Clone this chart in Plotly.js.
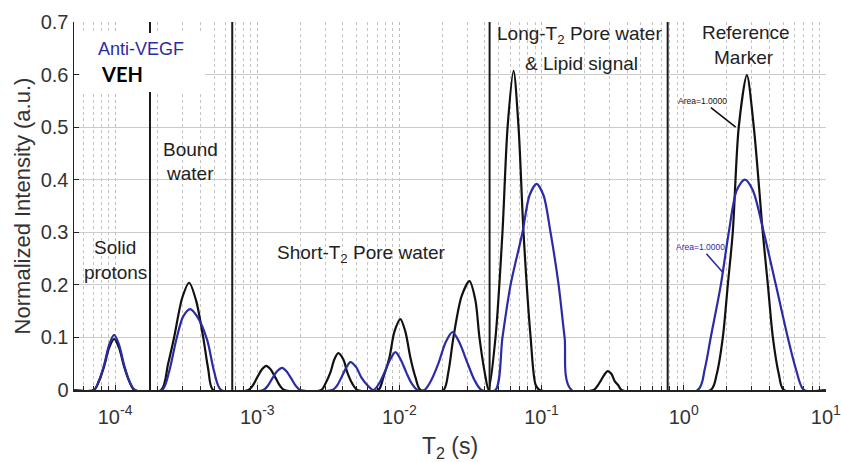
<!DOCTYPE html>
<html>
<head>
<meta charset="utf-8">
<script src="https://cdn.plot.ly/plotly-3.0.1.min.js"></script>
<style>html,body{margin:0;padding:0;background:#fff;}#chart{width:841px;height:462px;}</style>
</head>
<body>
<div id="chart"></div>
<script>
// ---- Data (T2 given as log10 of seconds) ----
const vehLogT2 = [-4.289, -4.148, -4.113, -4.077, -4.042, -4.007, -3.972, -3.937, -3.901, -3.866,
  -3.676, -3.627, -3.585, -3.528, -3.479, -3.430, -3.380, -3.345, -3.310,
  -3.063, -3.028, -3.000, -2.965, -2.937, -2.908, -2.873, -2.845, -2.810,
  -2.549, -2.521, -2.486, -2.458, -2.430, -2.394, -2.366, -2.331, -2.296,
  -2.148, -2.113, -2.070, -2.035, -1.993, -1.958, -1.923, -1.887, -1.852,
  -1.690, -1.655, -1.620, -1.563, -1.507, -1.465, -1.437, -1.401, -1.373,
  -1.324, -1.275, -1.239, -1.197, -1.162, -1.127, -1.077, -1.042, -1.014,
  -0.634, -0.606, -0.585, -0.556, -0.535, -0.507, -0.486, -0.458, -0.437,
  0.190, 0.232, 0.275, 0.310, 0.345, 0.387, 0.444, 0.493, 0.556, 0.592, 0.627, 0.669, 0.704, 1.0];
const vehIntensity = [0, 0, 0.017, 0.045, 0.080, 0.097, 0.080, 0.045, 0.017, 0,
  0, 0.050, 0.100, 0.175, 0.204, 0.170, 0.100, 0.040, 0,
  0, 0.010, 0.024, 0.040, 0.046, 0.040, 0.024, 0.010, 0,
  0, 0.012, 0.033, 0.058, 0.070, 0.058, 0.033, 0.012, 0,
  0, 0.024, 0.062, 0.111, 0.135, 0.111, 0.062, 0.024, 0,
  0, 0.035, 0.100, 0.178, 0.207, 0.170, 0.100, 0.035, 0,
  0.100, 0.300, 0.500, 0.607, 0.500, 0.300, 0.100, 0.010, 0,
  0, 0.008, 0.017, 0.030, 0.036, 0.030, 0.017, 0.008, 0,
  0, 0.030, 0.100, 0.200, 0.300, 0.500, 0.599, 0.500, 0.300, 0.200, 0.100, 0.030, 0, 0];

const antiLogT2 = [-4.289, -4.148, -4.113, -4.077, -4.042, -4.007, -3.972, -3.937, -3.901, -3.859,
  -3.669, -3.620, -3.570, -3.521, -3.472, -3.423, -3.352, -3.303, -3.254,
  -2.958, -2.923, -2.894, -2.859, -2.824, -2.796, -2.761, -2.732, -2.697,
  -2.472, -2.437, -2.408, -2.373, -2.345, -2.303, -2.268, -2.225, -2.183,
  -2.141, -2.106, -2.063, -2.028, -1.993, -1.951, -1.915, -1.873,
  -1.824, -1.775, -1.725, -1.676, -1.627, -1.577, -1.521, -1.472, -1.423,
  -1.324, -1.275, -1.218, -1.134, -1.085, -1.035, -0.986, -0.937, -0.880, -0.838, -0.789,
  0.099, 0.148, 0.190, 0.261, 0.317, 0.373, 0.430, 0.486, 0.563, 0.648, 0.732, 0.789, 0.845, 1.0];
const antiIntensity = [0, 0, 0.018, 0.048, 0.086, 0.105, 0.086, 0.048, 0.018, 0,
  0, 0.035, 0.095, 0.140, 0.154, 0.140, 0.095, 0.035, 0,
  0, 0.009, 0.022, 0.036, 0.042, 0.036, 0.022, 0.009, 0,
  0, 0.009, 0.024, 0.043, 0.053, 0.043, 0.024, 0.009, 0,
  0.013, 0.033, 0.059, 0.072, 0.059, 0.033, 0.013, 0,
  0, 0.019, 0.051, 0.090, 0.110, 0.090, 0.051, 0.019, 0,
  0, 0.100, 0.200, 0.300, 0.370, 0.392, 0.370, 0.300, 0.200, 0.100, 0,
  0, 0.040, 0.100, 0.200, 0.300, 0.380, 0.400, 0.380, 0.300, 0.200, 0.100, 0.040, 0, 0];

// Region boundaries (T2, s)
const regionBounds = [1.76e-4, 6.67e-4, 0.0431, 0.771];
const seriesNames = ['VEH', 'Anti-VEGF'];
const seriesColors = ['#111111', '#2b2ba6'];
// x tick labels
const xTickVals = [1e-4, 1e-3, 1e-2, 1e-1, 1, 10];
const xTickText = ['10<sup>-4</sup>', '10<sup>-3</sup>', '10<sup>-2</sup>', '10<sup>-1</sup>', '10<sup>0</sup>', '10<sup>1</sup>'];

const toT2 = a => a.map(v => Math.pow(10, v));

// minor tick positions 2..9 of each decade (axis decoration, not data)
const minorVals = [];
for (let d = -5; d <= 0; d++) for (let m = 2; m <= 9; m++) minorVals.push(m * Math.pow(10, d));

const traces = [
  {x: toT2(vehLogT2), y: vehIntensity, name: seriesNames[0], mode: 'lines',
   line: {color: seriesColors[0], width: 2.2, shape: 'spline', smoothing: 0.8}},
  {x: toT2(antiLogT2), y: antiIntensity, name: seriesNames[1], mode: 'lines',
   line: {color: seriesColors[1], width: 2.2, shape: 'spline', smoothing: 0.8}}
];

const FAM = 'Liberation Sans, Arial, sans-serif';
const txtFont = {family: FAM, size: 19, color: '#222'};
const px = v => (v - 74) / 752;      // helper for label placement (paper)
const py = v => (390 - v) / 368;

function lbl(text, x, y) {
  return {text: text, xref: 'paper', yref: 'paper', x: px(x), y: py(y), showarrow: false,
          xanchor: 'center', yanchor: 'middle', font: txtFont};
}

const shapes = regionBounds.map(b => ({type: 'line', xref: 'x', yref: 'paper', x0: b, x1: b, y0: 0, y1: 1,
  line: {color: '#1a1a1a', width: 2}, layer: 'above'}));
// legend box (white) covering grid
shapes.push({type: 'rect', xref: 'paper', yref: 'paper', x0: px(80), x1: px(205), y0: py(92), y1: py(33),
  fillcolor: '#ffffff', line: {width: 0}, layer: 'above'});

const annotations = [
  lbl('Solid', 115, 248), lbl('protons', 115, 272),
  lbl('Bound', 190, 149), lbl('water', 190, 174),
  lbl('Short-T<sub>2</sub> Pore water', 361, 254),
  lbl('Long-T<sub>2</sub> Pore water', 579, 35),
  lbl('& Lipid signal', 581, 64),
  lbl('Reference', 746, 33), lbl('Marker', 744, 57),
  {text: 'Anti-VEGF', xref: 'paper', yref: 'paper', x: px(96), y: py(49), xanchor: 'left', yanchor: 'middle',
   showarrow: false, font: {family: FAM, size: 18, color: seriesColors[1]}},
  {text: '<b>VEH</b>', xref: 'paper', yref: 'paper', x: px(99), y: py(74), xanchor: 'left', yanchor: 'middle',
   showarrow: false, font: {family: 'Lato, Liberation Sans, sans-serif', size: 20, color: '#000'}},
  {text: 'Area=1.0000', x: Math.log10(2.32), y: 0.50, xref: 'x', yref: 'y', ax: -33, ay: -26,
   showarrow: true, arrowhead: 0, arrowwidth: 1.6, arrowcolor: '#111', standoff: 0,
   font: {family: FAM, size: 8.5, color: '#111'}},
  {text: 'Area=1.0000', x: Math.log10(1.88), y: 0.224, xref: 'x', yref: 'y', ax: -22, ay: -25,
   showarrow: true, arrowhead: 0, arrowwidth: 1.6, arrowcolor: seriesColors[1], standoff: 0,
   font: {family: FAM, size: 8.5, color: seriesColors[1]}}
];

const layout = {
  width: 841, height: 462,
  margin: {l: 74, r: 15, t: 22, b: 72},
  paper_bgcolor: '#fff', plot_bgcolor: '#fff',
  showlegend: false,
  font: {family: FAM, size: 19, color: '#333'},
  xaxis: {
    type: 'log', range: [-4.289, 1.0008], tickmode: 'array', tickvals: xTickVals, ticktext: xTickText,
    showline: true, linecolor: '#222', linewidth: 1.5, mirror: false, layer: 'below traces',
    ticks: 'inside', ticklen: 5, tickcolor: '#222', ticklabeloverflow: 'allow',
    showgrid: true, gridcolor: '#bbbbbb', griddash: 'dot', gridwidth: 1,
    minor: {tickmode: 'array', tickvals: minorVals, ticks: 'inside', ticklen: 4, tickcolor: '#222',
            showgrid: true, gridcolor: '#c4c4c4', griddash: 'dot', gridwidth: 1},
    tickfont: {size: 20, color: '#333'}, ticklabelstandoff: 8,
    title: {text: 'T<sub>2</sub> (s)', font: {size: 23, color: '#333'}, standoff: 12},
    zeroline: false, automargin: false
  },
  yaxis: {
    range: [0, 0.7], dtick: 0.1, tickformat: '.1~f',
    showline: true, linecolor: '#222', linewidth: 1.5, layer: 'below traces',
    ticks: 'inside', ticklen: 5, tickcolor: '#222',
    showgrid: true, gridcolor: '#cccccc', gridwidth: 1.2,
    tickfont: {size: 20, color: '#333'},
    title: {text: 'Normalized Intensity (a.u.)', font: {size: 22, color: '#333'}, standoff: 4},
    zeroline: false, automargin: false
  },
  shapes: shapes,
  annotations: annotations
};

Plotly.newPlot('chart', traces, layout, {displayModeBar: false, staticPlot: true});
</script>
</body>
</html>
